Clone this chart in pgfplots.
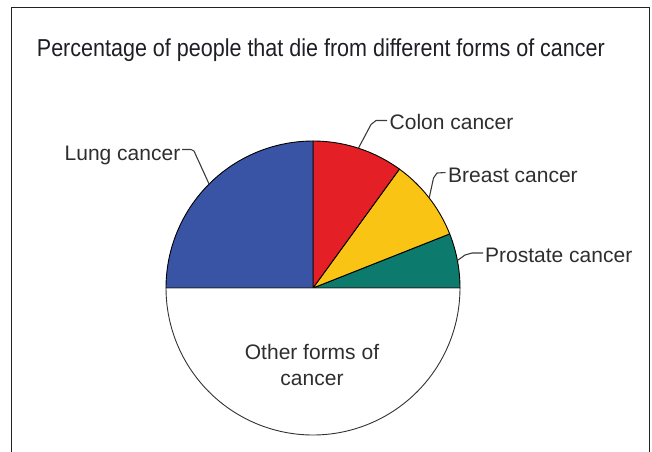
\documentclass[border=0pt]{standalone}
\usepackage{pgfplots}
\pgfplotsset{compat=1.18}
\usepackage{pgfplotstable}
\usepackage{graphicx}
\usepackage{fontspec}
\setmainfont{Liberation Sans}

\definecolor{lungblue}{RGB}{57,84,165}
\definecolor{colonred}{RGB}{228,31,38}
\definecolor{breastyellow}{RGB}{249,196,20}
\definecolor{prostateteal}{RGB}{12,122,108}
\definecolor{titleink}{RGB}{32,30,36}
\definecolor{labelink}{RGB}{46,46,46}
\definecolor{leaderink}{RGB}{60,60,60}
\definecolor{frameink}{RGB}{34,34,34}

% Share of cancer deaths in percent, listed counter-clockwise from 3 o'clock
\pgfplotstableread{
slice     pct
Prostate  6
Breast    9
Colon     10
Lung      25
Other     50
}\cancerdata

% One wedge per table row; the angles accumulate from 0 degrees
\def\slicestart{0}
\newcommand\pieslice[3]{% row, fill colour, outline colour
  \pgfplotstablegetelem{#1}{pct}\of\cancerdata
  \pgfmathsetmacro\sliceend{\slicestart+3.6*\pgfplotsretval}%
  \edef\slicecmd{\noexpand\addplot[fill=#2, draw=#3, line width=0.9pt,
      line join=round, domain=\slicestart:\sliceend, samples=90]
      ({cos(x)},{sin(x)}) -- (axis cs:0,0) -- cycle;}%
  \slicecmd
  \global\let\slicestart\sliceend
}

\begin{document}
\begin{tikzpicture}
\path[use as bounding box] (0pt,0pt) rectangle (652pt,-451pt);

% open frame around the figure
\draw[frameink, line width=1.5pt]
  (11.7pt,-470pt) -- (11.7pt,-7.5pt) -- (649.5pt,-7.5pt) -- (649.5pt,-470pt);

\begin{axis}[
  hide axis, clip=false,
  x=147pt, y=147pt,
  xmin=-1.1, xmax=1.1, ymin=-1.1, ymax=1.1,
  anchor=center, at={(313pt,-288pt)},
]
  \pieslice{0}{prostateteal}{black}
  \pieslice{1}{breastyellow}{black}
  \pieslice{2}{colonred}{black}
  \pieslice{3}{lungblue}{black}
  \pieslice{4}{white}{black!80}
\end{axis}

% title
\node[anchor=base west, inner sep=0pt, text=titleink] at (36.7pt,-56.7pt)
  {\resizebox{568pt}{\height}{\fontsize{24.5}{29}\selectfont
   Percentage of people that die from different forms of cancer}};

% leader lines from each slice to its label
\begin{scope}[leaderink, line width=1.1pt, line join=round]
  \draw (209.1pt,-184.1pt) -- (194pt,-151pt) -- (191pt,-149.5pt) -- (182pt,-149.5pt);
  \draw (358.4pt,-148.2pt) -- (371pt,-124.5pt) -- (376pt,-120.5pt) -- (387pt,-120.5pt);
  \draw (429.2pt,-197.9pt) -- (433.5pt,-178pt) -- (437pt,-173pt) -- (445.5pt,-172.5pt);
  \draw (457.4pt,-260.5pt) -- (465pt,-255pt) -- (472pt,-253pt) -- (483pt,-253pt);
\end{scope}

% slice labels
\begin{scope}[every node/.style={inner sep=0pt, text=labelink, font=\fontsize{21}{25}\selectfont}]
  \node[anchor=base east] at (180.5pt,-160pt) {Lung cancer};
  \node[anchor=base west] at (389.5pt,-129.5pt) {Colon cancer};
  \node[anchor=base west] at (448pt,-182.7pt) {Breast cancer};
  \node[anchor=base west] at (485pt,-262.7pt) {Prostate cancer};
  \node[anchor=base] at (312pt,-359pt) {Other forms of};
  \node[anchor=base] at (312pt,-385pt) {cancer};
\end{scope}
\end{tikzpicture}
\end{document}
